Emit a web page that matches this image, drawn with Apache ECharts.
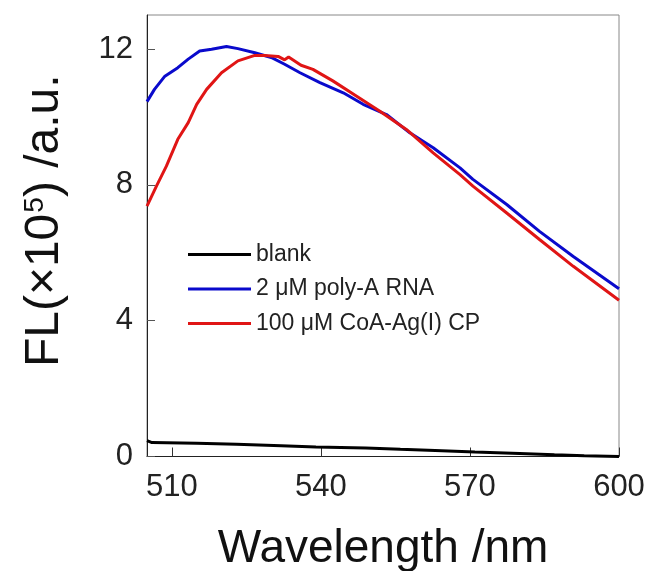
<!DOCTYPE html>
<html>
<head>
<meta charset="utf-8">
<script src="https://cdn.jsdelivr.net/npm/echarts@6/dist/echarts.min.js"></script>
<style>
  html, body { margin: 0; padding: 0; background: #fff; }
  #chart { width: 652px; height: 571px; }
</style>
</head>
<body>
<div id="chart"></div>
<script>
// Fluorescence emission spectra, wavelength (nm) vs intensity (x10^5 a.u.)
const seriesNames = ['blank', '2 \u03BCM poly-A RNA', '100 \u03BCM CoA-Ag(I) CP'];

const blankData = [
  [505, 0.47], [506, 0.41], [515, 0.39], [523, 0.36], [532, 0.32],
  [539, 0.28], [549, 0.25], [556, 0.21], [563, 0.18], [571, 0.13],
  [580, 0.09], [587, 0.05], [593, 0.02], [600, 0.0]
];

const polyAData = [
  [505, 10.45], [506.5, 10.81], [508.6, 11.2], [511.2, 11.45], [513.3, 11.70],
  [515.6, 11.94], [518, 11.99], [521, 12.07], [523.3, 12.01], [526.7, 11.89],
  [530, 11.75], [532.7, 11.55], [535.8, 11.30], [539.8, 11.01], [544.5, 10.71],
  [548.5, 10.37], [553.2, 10.07], [557.9, 9.53], [562.6, 9.09], [568, 8.50],
  [570.6, 8.16], [577.4, 7.42], [584, 6.63], [590.8, 5.89], [600, 4.94]
];

const coaAgData = [
  [505, 7.37], [506.9, 7.96], [508.9, 8.55], [511.2, 9.34], [513.3, 9.83],
  [515, 10.37], [517, 10.81], [520, 11.30], [523.3, 11.65], [526.7, 11.81],
  [528.7, 11.81], [531.4, 11.78], [532.7, 11.68], [533.5, 11.76], [536, 11.52],
  [538.4, 11.40], [542.4, 11.06], [547.2, 10.61], [551.8, 10.17], [557.2, 9.63],
  [562.6, 8.94], [568, 8.30], [570.6, 7.96], [577.4, 7.17], [584, 6.39],
  [590.8, 5.60], [600, 4.60]
];

const xTicks = [510, 540, 570, 600];
const yTicks = [0, 4, 8, 12];

const FONT = '"Liberation Sans", Arial, sans-serif';
const colors = ['#000000', '#0a0acc', '#e01515'];

const chart = echarts.init(document.getElementById('chart'), null, { renderer: 'canvas' });

chart.setOption({
  animation: false,
  backgroundColor: '#ffffff',
  grid: {
    left: 147, right: 33, top: 15, bottom: 114.5,
    containLabel: false,
    outerBoundsMode: 'none',
    show: true, borderColor: '#888888', borderWidth: 1
  },
  legend: {
    orient: 'vertical',
    left: 183,
    top: 238,
    itemWidth: 63,
    itemHeight: 3,
    itemGap: 11.5,
    icon: 'rect',
    data: seriesNames,
    textStyle: { fontFamily: FONT, fontSize: 23, lineHeight: 23, color: '#222' }
  },
  xAxis: {
    type: 'value',
    min: 505, max: 600,
    name: 'Wavelength /nm',
    nameLocation: 'middle',
    nameGap: 70,
    nameTextStyle: { fontFamily: FONT, fontSize: 46, color: '#111' },
    axisLine: { show: true, lineStyle: { color: '#222', width: 1 } },
    axisTick: { show: true, inside: true, length: 9, customValues: xTicks, lineStyle: { color: '#333' } },
    axisLabel: { customValues: xTicks, fontFamily: FONT, fontSize: 31, color: '#222', margin: 15 },
    splitLine: { show: false }
  },
  yAxis: {
    type: 'value',
    min: 0, max: 13,
    name: '{a|FL(\u00D710}{s|5}{a|) /a.u.}',
    nameLocation: 'middle',
    nameRotate: 90,
    nameGap: 78,
    nameTextStyle: {
      padding: [0, 0, 0, 30],
      rich: {
        a: { fontFamily: FONT, fontSize: 48, color: '#111' },
        s: { fontFamily: FONT, fontSize: 28, color: '#111', verticalAlign: 'top', padding: [0, 0, 12, 1] }
      }
    },
    axisLine: { show: true, lineStyle: { color: '#222', width: 1 } },
    axisTick: { show: true, inside: true, length: 8, customValues: yTicks, lineStyle: { color: '#555' } },
    axisLabel: { customValues: yTicks, fontFamily: FONT, fontSize: 31, color: '#222', margin: 14 },
    splitLine: { show: false }
  },
  series: [
    { name: seriesNames[0], type: 'line', data: blankData, showSymbol: false,
      lineStyle: { color: colors[0], width: 3 }, itemStyle: { color: colors[0] } },
    { name: seriesNames[1], type: 'line', data: polyAData, showSymbol: false,
      lineStyle: { color: colors[1], width: 3 }, itemStyle: { color: colors[1] } },
    { name: seriesNames[2], type: 'line', data: coaAgData, showSymbol: false,
      lineStyle: { color: colors[2], width: 3 }, itemStyle: { color: colors[2] } }
  ]
});
</script>
</body>
</html>
